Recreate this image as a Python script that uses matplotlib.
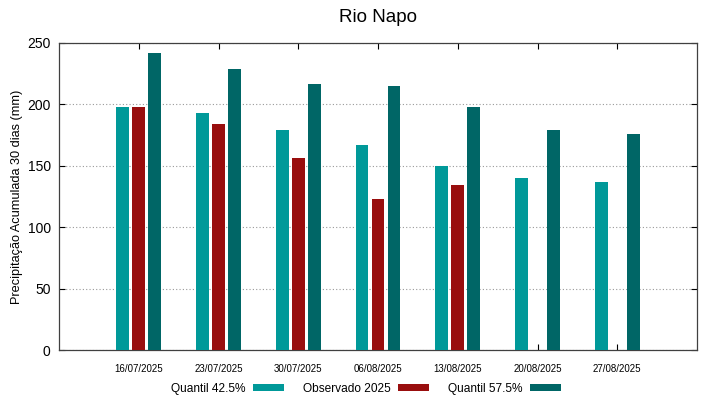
import numpy as np
import matplotlib
matplotlib.use('Agg')
import matplotlib.pyplot as plt

plt.rcParams['font.family'] = ['Liberation Sans', 'DejaVu Sans']

# valores
datas = ['16/07/2025', '23/07/2025', '30/07/2025', '06/08/2025',
         '13/08/2025', '20/08/2025', '27/08/2025']
q425 = [198, 193, 179.5, 167, 149.5, 140, 137]
obs2025 = [197.5, 184, 156.5, 123, 134, np.nan, np.nan]
q575 = [242, 229, 217, 215, 198, 179, 176]

cor_q425 = '#009999'
cor_obs = '#990e0e'
cor_q575 = '#006666'

fig = plt.figure(figsize=(7.19, 3.99), dpi=100)
ax = fig.add_axes([59 / 719, 49 / 399, 638 / 719, 307 / 399])

x = np.arange(len(datas))
w = 0.16
ax.bar(x - 0.2, q425, w, color=cor_q425, label='Quantil 42.5%', zorder=3)
ax.bar(x, obs2025, w, color=cor_obs, label='Observado 2025', zorder=3)
ax.bar(x + 0.2, q575, w, color=cor_q575, label='Quantil 57.5%', zorder=3)

ax.set_xlim(-1, 7)
ax.set_ylim(0, 250)
ax.set_xticks(x)
ax.set_xticklabels(datas, fontsize=7)
ax.set_yticks([0, 50, 100, 150, 200, 250])
ax.tick_params(axis='y', labelsize=10, direction='in', length=4, right=True, pad=6)
ax.tick_params(axis='x', direction='in', length=4, top=True, pad=10)
ax.yaxis.grid(True, linestyle=(0, (1, 2)), color='#999999', linewidth=0.8, zorder=0)

for s in ax.spines.values():
    s.set_color('#404040')
    s.set_linewidth(0.9)

ax.set_ylabel('Precipitação Acumulada 30 dias (mm)', fontsize=9.2, labelpad=3)
ax.set_title('Rio Napo', fontsize=13.5, pad=15)

fig.legend(loc='center', bbox_to_anchor=(366 / 719, 10 / 399), ncol=3, frameon=False,
           markerfirst=False, fontsize=8.6, handlelength=2.6, handleheight=0.5,
           columnspacing=1.6, handletextpad=0.6)

fig.savefig('out.png', dpi=100)
